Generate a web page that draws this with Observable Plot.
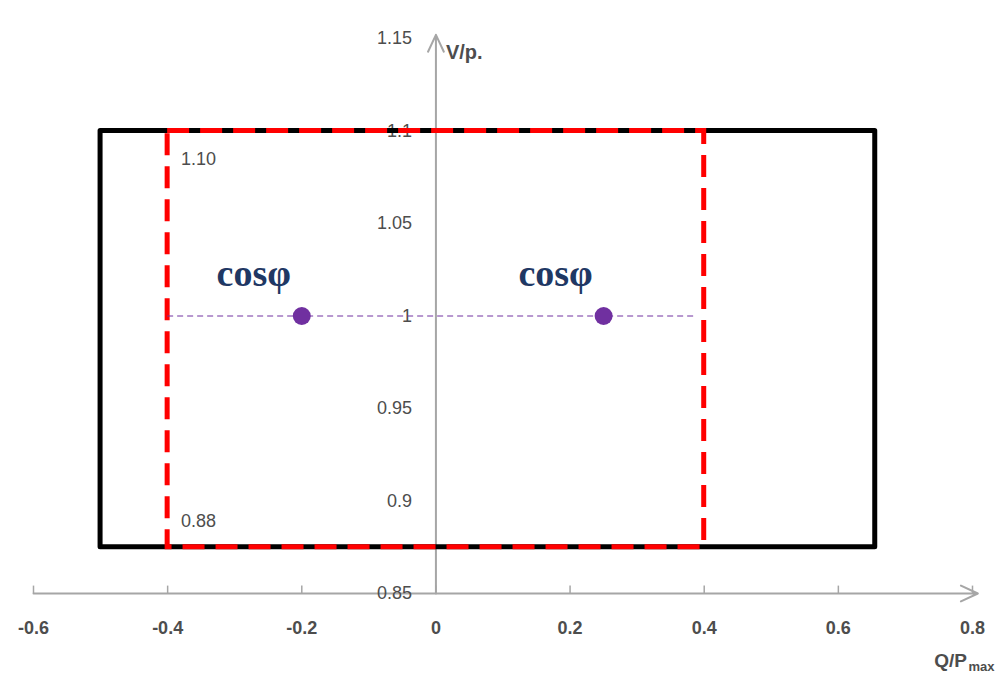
<!DOCTYPE html>
<html><head><meta charset="utf-8">
<script src="https://cdn.jsdelivr.net/npm/d3@7"></script>
<script src="https://cdn.jsdelivr.net/npm/@observablehq/plot@0.6"></script>
<style>body{margin:0;background:#fff;} svg{display:block;}</style>
</head><body><div id="chart"></div>
<script>
const xTicks = [-0.6, -0.4, -0.2, 0, 0.2, 0.4, 0.6, 0.8];
const xTickLabels = ["-0.6", "-0.4", "-0.2", "0", "0.2", "0.4", "0.6", "0.8"];
const yTicks = [0.85, 0.9, 0.95, 1, 1.05, 1.1, 1.15];
const yTickLabels = ["0.85", "0.9", "0.95", "1", "1.05", "1.1", "1.15"];
const outerBox = [{x1: -0.5, x2: 0.655, y1: 0.875, y2: 1.1}];
const innerBox = [{x1: -0.4, x2: 0.4, y1: 0.875, y2: 1.1}];
const refLine = [{x1: -0.4, x2: 0.385, y: 1}];
const points = [{x: -0.2, y: 1}, {x: 0.25, y: 1}];
const cosLabels = [{x: -0.2, y: 1.023, t: "cosφ"}, {x: 0.25, y: 1.023, t: "cosφ"}];
const cornerLabels = [{x: -0.38, y: 1.085, t: "1.10"}, {x: -0.38, y: 0.889, t: "0.88"}];

const xT = xTicks.map((v, i) => ({v, t: xTickLabels[i]}));
const yT = yTicks.map((v, i) => ({v, t: yTickLabels[i]}));
const axisColor = "#a6a6a6";
const labelColor = "#4d4d4d";
const font = "Liberation Sans, Arial, sans-serif";

const plot = Plot.plot({
  width: 1006, height: 675,
  marginLeft: 33, marginRight: 34, marginTop: 38, marginBottom: 82,
  x: {domain: [-0.6, 0.8], axis: null},
  y: {domain: [0.85, 1.15], axis: null},
  style: {fontFamily: font, background: "#fff"},
  marks: [
    // axes
    Plot.arrow([{x1: -0.6, x2: 0.808, y: 0.85}], {x1: "x1", x2: "x2", y1: "y", y2: "y", stroke: axisColor, strokeWidth: 2, headLength: 14, headAngle: 50}),
    Plot.arrow([{x: 0, y1: 0.85, y2: 1.152}], {x1: "x", x2: "x", y1: "y1", y2: "y2", stroke: axisColor, strokeWidth: 2, headLength: 14, headAngle: 50}),
    Plot.ruleX(xTicks, {x: d => d, y1: 0.85, y2: 0.854, stroke: axisColor, strokeWidth: 1.5}),
    Plot.text(xT, {x: "v", y: 0.85, text: "t", dy: 35, fontSize: 18, fill: labelColor, fontWeight: "bold"}),
    Plot.text(yT, {x: 0, y: "v", text: "t", dx: -24, textAnchor: "end", fontSize: 18, fill: labelColor}),
    Plot.text(["V/p."], {x: 0, y: 1.15, text: d => d, dx: 10, dy: 14, textAnchor: "start", fontSize: 20, fontWeight: "bold", fill: labelColor}),
    Plot.text(["Q/P"], {x: 0.8, y: 0.85, text: d => d, dx: -22, dy: 67, textAnchor: "middle", fontSize: 19, fontWeight: "bold", fill: labelColor}),
    Plot.text(["max"], {x: 0.8, y: 0.85, text: d => d, dx: -4, dy: 73, textAnchor: "start", fontSize: 13, fontWeight: "bold", fill: labelColor}),
    // boxes
    Plot.rect(outerBox, {x1: "x1", x2: "x2", y1: "y1", y2: "y2", fill: "none", stroke: "#000", strokeWidth: 5, strokeLinejoin: "round"}),
    Plot.rect(innerBox, {x1: "x1", x2: "x2", y1: "y1", y2: "y2", fill: "none", stroke: "#ff0000", strokeWidth: 5, strokeDasharray: "22,11"}),
    // reference line and points
    Plot.ruleY(refLine, {y: "y", x1: "x1", x2: "x2", stroke: "#7030a0", strokeWidth: 1, strokeDasharray: "6,4"}),
    Plot.dot(points, {x: "x", y: "y", r: 9, fill: "#7030a0", stroke: "none"}),
    Plot.text(cosLabels, {x: "x", y: "y", text: "t", dx: -48, fontFamily: "Liberation Serif, Times New Roman, serif", fontWeight: "bold", fontSize: 38, fill: "#1f3864"}),
    Plot.text(cornerLabels, {x: "x", y: "y", text: "t", textAnchor: "start", fontSize: 18, fill: labelColor})
  ]
});
document.getElementById("chart").appendChild(plot);
</script></body></html>
